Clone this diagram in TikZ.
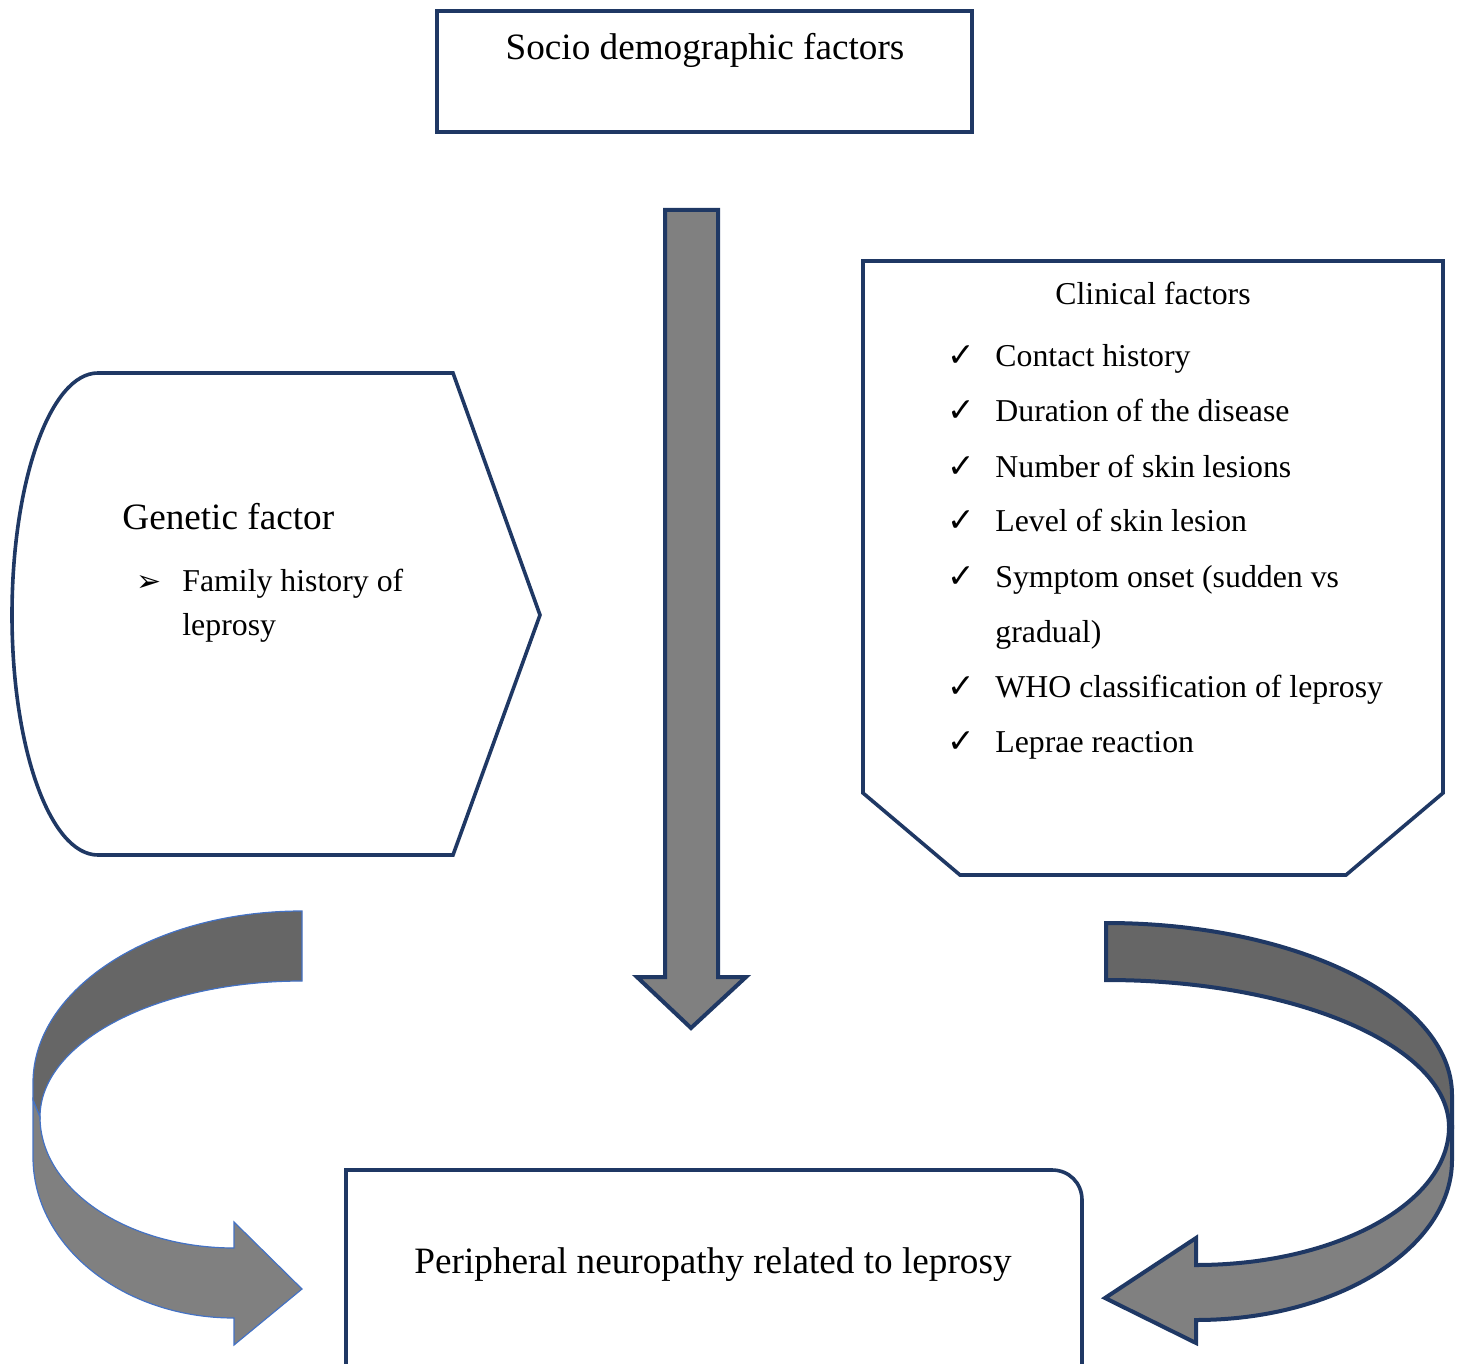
\documentclass[tikz,border=0pt]{standalone}
\usepackage{fontspec}
\setmainfont{Liberation Serif}
\newfontfamily\dingfont{DejaVu Sans}
\definecolor{navy}{HTML}{1F3864}
\definecolor{bandgray}{HTML}{808080}
\definecolor{darkband}{HTML}{666666}
\definecolor{edgeblue}{HTML}{4472C4}
\begin{document}
\begin{tikzpicture}[x=0.5pt,y=-0.5pt,
    boxline/.style={draw=navy,line width=1.8pt,fill=white},
    blockarrow/.style={draw=navy,line width=2pt,fill=bandgray},
    thinarrow/.style={draw=edgeblue,line width=0.6pt},
    bigtext/.style={inner sep=0pt,font=\fontsize{18.6}{22}\selectfont},
    smalltext/.style={inner sep=0pt,anchor=base west,font=\fontsize{15.9}{19}\selectfont},
    checkmark/.style={inner sep=0pt,anchor=base west,font=\dingfont\fontsize{16.5}{19}\selectfont}]
    \useasboundingbox (0,0) rectangle (1462,1364);

    \draw[boxline] (437,11) rectangle (972,132);
    \node[bigtext,anchor=base] (socio) at (705,60) {Socio demographic factors};

    \draw[blockarrow] (665,210) -- (718,210) -- (718,977) -- (746,977)
        -- (691,1028) -- (637,977) -- (665,977) -- cycle;

    \draw[boxline] (98,373) -- (453,373) -- (540,615) -- (453,855) -- (98,855)
        .. controls (50,855) and (12,748) .. (12,615)
        .. controls (12,482) and (50,373) .. (98,373) -- cycle;
    \node[bigtext,anchor=base west] (genetic) at (122,529) {Genetic factor};
    \node[checkmark,font=\dingfont\fontsize{15}{18}\selectfont] (bullet) at (136,591) {➢};
    \node[smalltext] (family) at (182,591) {Family history of};
    \node[smalltext] (leprosy) at (182,635) {leprosy};

    \draw[boxline] (863,261) -- (1443,261) -- (1443,793) -- (1346,875)
        -- (960,875) -- (863,793) -- cycle;
    \node[smalltext,anchor=base] (clinical) at (1153,305) {Clinical factors};
    \foreach \yy/\txt [count=\i] in {366/Contact history,421/Duration of the disease,
        477/Number of skin lesions,531/Level of skin lesion,587/Symptom onset (sudden vs,
        697/WHO classification of leprosy,752/Leprae reaction} {
        \node[checkmark] (tick\i) at (947,\yy) {✓};
        \node[smalltext] (item\i) at (995,\yy) {\txt};
    }
    \node[smalltext] (gradual) at (995,642) {gradual)};

    \draw[navy,line width=1.8pt] (346,1364) -- (346,1170) -- (1052,1170)
        .. controls (1069,1170) and (1082,1183) .. (1082,1200) -- (1082,1364);
    \node[bigtext,anchor=base] (neuro) at (713,1273) {Peripheral neuropathy related to leprosy};

    \draw[thinarrow,fill=darkband] (302,911) .. controls (154,911) and (33,988) .. (33,1083)
        -- (33,1100) -- (40,1117) .. controls (40,1042) and (157,981) .. (302,981) -- cycle;
    \draw[thinarrow,fill=bandgray] (33,1100) -- (33,1157)
        .. controls (33,1246) and (123,1318) .. (234,1318) -- (234,1345) -- (302,1289)
        -- (234,1222) -- (234,1248) .. controls (127,1248) and (40,1189) .. (40,1117) -- cycle;

    \draw[blockarrow,fill=darkband] (1106,923) .. controls (1297,923) and (1452,1000) .. (1452,1095)
        -- (1452,1127) -- (1449,1127) .. controls (1449,1046) and (1295,980) .. (1106,980) -- cycle;
    \draw[blockarrow] (1452,1127) -- (1452,1160)
        .. controls (1452,1248) and (1337,1320) .. (1196,1320) -- (1196,1343) -- (1105,1298)
        -- (1196,1238) -- (1196,1265) .. controls (1336,1265) and (1449,1203) .. (1449,1127) -- cycle;
\end{tikzpicture}
\end{document}
